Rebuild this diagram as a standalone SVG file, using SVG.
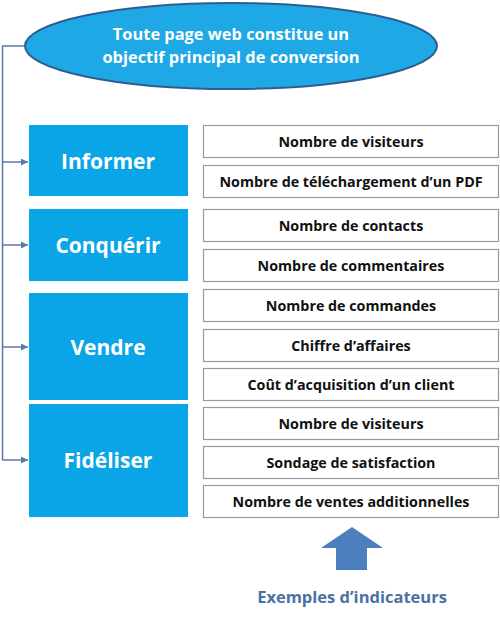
<svg xmlns="http://www.w3.org/2000/svg" width="500" height="621" viewBox="0 0 500 621">
<defs>
<style>
.blue{fill:#0aa5e7;}
.box{fill:#ffffff;stroke:#9a9a9a;stroke-width:1.2;}
.bt{font-family:"Open Sans","Liberation Sans",sans-serif;font-weight:700;font-size:14.3px;fill:#111111;text-anchor:middle;}
.lt{font-family:"Open Sans","Liberation Sans",sans-serif;font-weight:700;font-size:21px;fill:#ffffff;text-anchor:middle;}
.et{font-family:"Open Sans","Liberation Sans",sans-serif;font-weight:700;font-size:16.4px;fill:#ffffff;text-anchor:middle;}
.conn{fill:none;stroke:#5b79a8;stroke-width:1.5;}
</style>
<marker id="ah" viewBox="0 0 10 10" refX="10" refY="5" markerWidth="7" markerHeight="7" orient="auto" markerUnits="userSpaceOnUse">
<path d="M0,0 L10,5 L0,10 z" fill="#5b79a8"/>
</marker>
</defs>
<rect width="500" height="621" fill="#ffffff"/>
<g id="connectors">
<path class="conn" d="M26,46 H2.5 V460"/>
<path class="conn" d="M2.5,162 H28" marker-end="url(#ah)"/>
<path class="conn" d="M2.5,245 H28" marker-end="url(#ah)"/>
<path class="conn" d="M2.5,347 H28" marker-end="url(#ah)"/>
<path class="conn" d="M2.5,460 H28" marker-end="url(#ah)"/>
</g>
<g id="goal">
<ellipse cx="231" cy="46" rx="206" ry="43" fill="#1ea9e6" stroke="#2d5d8f" stroke-width="2"/>
<text class="et" x="231" y="40">Toute page web constitue un</text>
<text class="et" x="231" y="63">objectif principal de conversion</text>
</g>
<g id="informer">
<rect class="blue" x="29" y="125" width="159" height="71"/>
<text class="lt" x="108" y="169">Informer</text>
</g>
<g id="conquerir">
<rect class="blue" x="29" y="209" width="159" height="72"/>
<text class="lt" x="108" y="253">Conquérir</text>
</g>
<g id="vendre">
<rect class="blue" x="29" y="293" width="159" height="107"/>
<text class="lt" x="108" y="355">Vendre</text>
</g>
<g id="fideliser">
<rect class="blue" x="29" y="404" width="159" height="113"/>
<text class="lt" x="108" y="468">Fidéliser</text>
</g>
<g id="ind1"><rect class="box" x="203.5" y="125.5" width="295" height="32"/><text class="bt" x="351" y="146.5">Nombre de visiteurs</text></g>
<g id="ind2"><rect class="box" x="203.5" y="165.5" width="295" height="32"/><text class="bt" x="351" y="186.5">Nombre de téléchargement d’un PDF</text></g>
<g id="ind3"><rect class="box" x="203.5" y="209.5" width="295" height="32"/><text class="bt" x="351" y="230.5">Nombre de contacts</text></g>
<g id="ind4"><rect class="box" x="203.5" y="249.5" width="295" height="32"/><text class="bt" x="351" y="270.5">Nombre de commentaires</text></g>
<g id="ind5"><rect class="box" x="203.5" y="289.5" width="295" height="32"/><text class="bt" x="351" y="310.5">Nombre de commandes</text></g>
<g id="ind6"><rect class="box" x="203.5" y="329.5" width="295" height="32"/><text class="bt" x="351" y="350.5">Chiffre d’affaires</text></g>
<g id="ind7"><rect class="box" x="203.5" y="368.5" width="295" height="32"/><text class="bt" x="351" y="389.5">Coût d’acquisition d’un client</text></g>
<g id="ind8"><rect class="box" x="203.5" y="407.5" width="295" height="32"/><text class="bt" x="351" y="428.5">Nombre de visiteurs</text></g>
<g id="ind9"><rect class="box" x="203.5" y="446.5" width="295" height="32"/><text class="bt" x="351" y="467.5">Sondage de satisfaction</text></g>
<g id="ind10"><rect class="box" x="203.5" y="485.5" width="295" height="32"/><text class="bt" x="351" y="506.5">Nombre de ventes additionnelles</text></g>
<g id="legend">
<path d="M352,527 L383,548 L367,548 L367,570 L336,570 L336,548 L321,548 Z" fill="#4b7fbd"/>
<text x="352" y="603" font-family="'Open Sans','Liberation Sans',sans-serif" font-weight="700" font-size="16.5px" fill="#4a72a3" text-anchor="middle">Exemples d’indicateurs</text>
</g>
</svg>
